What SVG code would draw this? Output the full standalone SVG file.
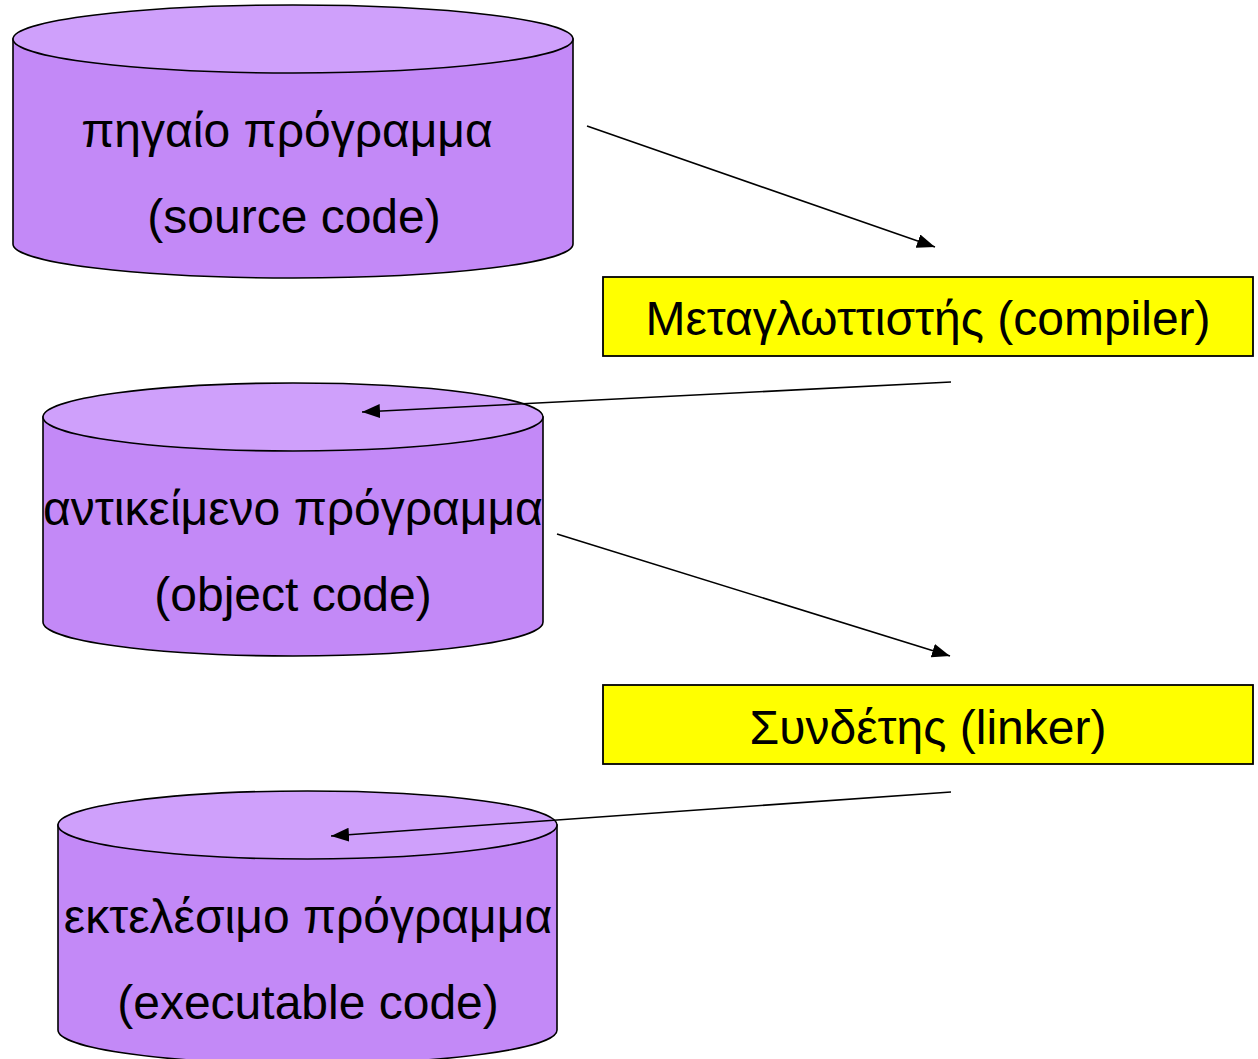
<svg xmlns="http://www.w3.org/2000/svg" width="1258" height="1059" viewBox="0 0 1258 1059">
  <style>
    .body { fill: #C389F7; stroke: #000; stroke-width: 1.6; }
    .top { fill: #CFA0FB; stroke: #000; stroke-width: 1.6; }
    .box { fill: #FFFF00; stroke: #000; stroke-width: 1.8; }
    .lbl { font-family: "Liberation Sans", Arial, sans-serif; font-size: 48px; fill: #000; text-anchor: middle; }
    .conn { stroke: #000; stroke-width: 1.6; fill: none; marker-end: url(#arrow); }
  </style>
  <defs>
    <marker id="arrow" markerUnits="userSpaceOnUse" markerWidth="19" markerHeight="14" refX="18" refY="7" orient="auto">
      <path d="M0,0 L18,7 L0,14 Z" fill="#000"/>
    </marker>
  </defs>
  <rect width="1258" height="1059" fill="#fff"/>

  <g id="source">
    <path class="body" d="M13,39 L13,244 A280,34 0 0 0 573,244 L573,39 Z"/>
    <ellipse class="top" cx="293" cy="39" rx="280" ry="34"/>
    <text class="lbl" x="287" y="147">πηγαίο πρόγραμμα</text>
    <text class="lbl" x="294" y="233">(source code)</text>
  </g>

  <g id="compiler">
    <rect class="box" x="603" y="277" width="650" height="79"/>
    <text class="lbl" x="928" y="335">Μεταγλωττιστής (compiler)</text>
  </g>

  <g id="object">
    <path class="body" d="M43,417 L43,622 A250,34 0 0 0 543,622 L543,417 Z"/>
    <ellipse class="top" cx="293" cy="417" rx="250" ry="34"/>
    <text class="lbl" x="293" y="525">αντικείμενο πρόγραμμα</text>
    <text class="lbl" x="293" y="611">(object code)</text>
  </g>

  <g id="linker">
    <rect class="box" x="603" y="685" width="650" height="79"/>
    <text class="lbl" x="928" y="744">Συνδέτης (linker)</text>
  </g>

  <g id="executable">
    <path class="body" d="M58,825 L58,1030 A249.5,34 0 0 0 557,1030 L557,825 Z"/>
    <ellipse class="top" cx="307.5" cy="825" rx="249.5" ry="34"/>
    <text class="lbl" x="308" y="933">εκτελέσιμο πρόγραμμα</text>
    <text class="lbl" x="308" y="1019">(executable code)</text>
  </g>

  <g id="connectors">
    <line class="conn" x1="587" y1="126" x2="935" y2="247"/>
    <line class="conn" x1="951" y1="382" x2="362" y2="412"/>
    <line class="conn" x1="557" y1="534" x2="950" y2="656"/>
    <line class="conn" x1="951" y1="792" x2="331" y2="836"/>
  </g>
</svg>
